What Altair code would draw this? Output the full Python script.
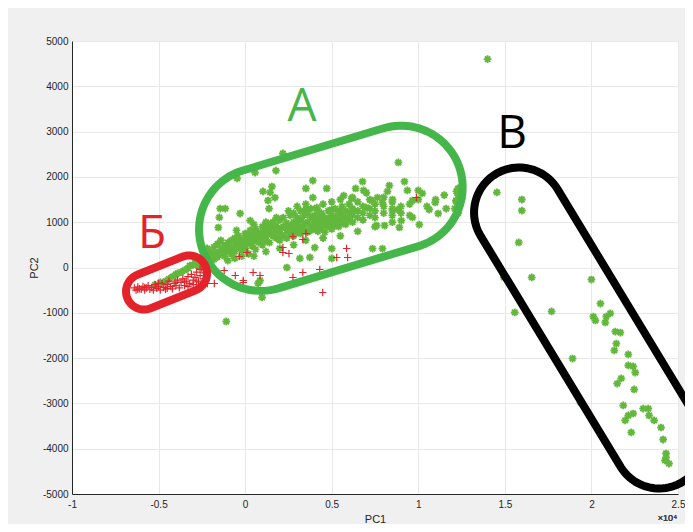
import math
import altair as alt
import pandas as pd

# ---------------- data ----------------
# x in units of 1e4 (PC1), y raw (PC2)
green_isolated = [
    (1.40, 4600),
    (0.218, 2517), (0.885, 2318), (0.057, 2097), (0.178, 2141), (-0.046, 1965),
    (0.391, 1920), (0.678, 1898), (0.920, 1898), (0.155, 1788), (0.144, 1656),
    (0.103, 1678), (0.351, 1744), (0.471, 1744), (0.638, 1744), (0.684, 1700),
    (0.833, 1810), (0.822, 1678), (0.937, 1700), (1.230, 1744), (0.172, 1545),
    (0.132, 1479), (0.391, 1545), (0.569, 1589), (0.615, 1523), (0.730, 1479),
    (0.764, 1545), (0.851, 1501), (0.793, 1435), (0.966, 1479), (1.023, 1634),
    (1.098, 1435), (1.218, 1479), (-0.144, 1302), (-0.115, 1302), (-0.029, 1192),
    (0.138, 1302), (0.351, 1280), (0.414, 1324), (0.500, 1280), (0.546, 1258),
    (0.626, 1258), (0.701, 1324), (0.851, 1258), (0.885, 1280), (1.063, 1280),
    (1.115, 1192), (1.161, 1302), (-0.149, 1104), (-0.155, 883), (0.029, 1037),
    (0.029, 817), (0.966, 1104), (1.006, 949), (0.891, 883), (0.902, 1037),
    (0.759, 927), (0.805, 927), (0.736, 419), (0.793, 419), (0.500, 419),
    (0.402, 441), (0.241, 0), (0.316, 199), (0.374, 221), (0.098, -662),
    (0.086, -287), (0.075, -353), (0.500, 199), (-0.109, -1192),
]

green_band = [
    (-0.22, 150), (-0.22, 300), (-0.22, 420), (-0.20, 200), (-0.20, 350), (-0.20, 260),
    (-0.18, 280), (-0.18, 450), (-0.18, 180), (-0.16, 330), (-0.16, 230), (-0.16, 520),
    (-0.14, 400), (-0.14, 300), (-0.14, 600), (-0.12, 250), (-0.12, 480), (-0.12, 380),
    (-0.10, 350), (-0.10, 550), (-0.10, 450), (-0.10, 150), (-0.08, 420), (-0.08, 600),
    (-0.08, 300), (-0.06, 500), (-0.06, 350), (-0.06, 650), (-0.06, 200), (-0.04, 450),
    (-0.04, 700), (-0.04, 550), (-0.02, 380), (-0.02, 600), (-0.02, 520), (-0.02, 250),
    (0.00, 500), (0.00, 650), (0.00, 420), (0.00, 750), (0.02, 550), (0.02, 700),
    (0.02, 300), (0.02, 600), (0.04, 480), (0.04, 800), (0.04, 650), (0.06, 600),
    (0.06, 720), (0.06, 400), (0.06, 850), (0.08, 550), (0.08, 750), (0.08, 680),
    (0.10, 650), (0.10, 900), (0.10, 500), (0.10, 780), (0.12, 700), (0.12, 600),
    (0.12, 850), (0.14, 750), (0.14, 950), (0.14, 550), (0.14, 820), (0.16, 700),
    (0.16, 880), (0.16, 1000), (0.18, 800), (0.18, 650), (0.18, 920), (0.20, 750),
    (0.20, 1050), (0.20, 850), (0.20, 600), (0.22, 900), (0.22, 700), (0.22, 1100),
    (0.24, 820), (0.24, 980), (0.24, 650), (0.26, 900), (0.26, 1150), (0.26, 750),
    (0.28, 850), (0.28, 1000), (0.28, 700), (0.28, 1200), (0.30, 950), (0.30, 800),
    (0.30, 1100), (0.32, 880), (0.32, 1050), (0.32, 750), (0.32, 1250), (0.34, 950),
    (0.34, 1150), (0.34, 850), (0.36, 1000), (0.36, 780), (0.36, 1200), (0.38, 900),
    (0.38, 1100), (0.38, 1300), (0.38, 820), (0.40, 1000), (0.40, 850), (0.40, 1150),
    (0.42, 950), (0.42, 1250), (0.42, 800), (0.42, 1080), (0.44, 1000), (0.44, 880),
    (0.44, 1200), (0.46, 1100), (0.46, 950), (0.46, 780), (0.48, 1050), (0.48, 900),
    (0.48, 1250), (0.50, 1000), (0.50, 1150), (0.50, 850), (0.52, 1100), (0.52, 950),
    (0.52, 1300), (0.54, 1050), (0.54, 900), (0.54, 1200), (0.56, 1150), (0.56, 1000),
    (0.56, 1350), (0.58, 1100), (0.58, 950), (0.58, 1250), (0.60, 1050), (0.60, 1200),
    (0.60, 1400), (0.62, 1150), (0.62, 1000), (0.62, 1300), (0.65, 1100), (0.65, 1250),
    (0.65, 1450), (0.68, 1200), (0.68, 1050), (0.68, 1350), (0.72, 1150), (0.72, 1300),
    (0.72, 1500), (0.75, 1250), (0.75, 1100), (0.75, 1400), (0.80, 1200), (0.80, 1350),
    (0.80, 1550), (0.85, 1300), (0.85, 1150), (0.85, 1450), (0.90, 1350), (0.90, 1200),
    (0.95, 1400), (1.00, 1500), (1.05, 1350),
    (1.21, 1300), (1.22, 1450), (1.23, 1600), (1.24, 1750), (1.22, 1680), (1.24, 1380),
    (1.25, 1520), (1.23, 1200),
]

green_band_edges = [
    (-0.05, 820), (0.05, 950), (0.12, 1000), (0.18, 1100), (0.25, 1250), (0.30, 1350),
    (0.35, 1400), (0.45, 1400), (0.50, 1450), (0.55, 1500), (0.62, 1550), (0.70, 1650),
    (0.05, 250), (0.12, 350), (0.20, 420), (0.28, 500), (0.35, 600), (0.45, 650),
    (0.55, 700), (0.65, 800), (0.75, 900), (0.85, 1000), (0.95, 1150), (1.10, 1500),
    (1.15, 1600), (1.00, 1700), (0.47, 1020), (0.49, 1080), (0.51, 980), (0.44, 1120),
]

green_tail = [
    (-0.52, -380), (-0.49, -330), (-0.46, -300), (-0.44, -250), (-0.42, -200),
    (-0.40, -150), (-0.39, -130), (-0.37, -100), (-0.35, -60), (-0.33, -20),
    (-0.32, 40), (-0.30, 60), (-0.29, 100), (-0.28, 150), (-0.27, 30),
    (-0.26, 200), (-0.25, 120), (-0.24, 250),
]

green_B = [
    (1.454, 1656), (1.598, 1501), (1.598, 1258), (1.580, 552), (1.494, -220),
    (1.655, -220), (2.000, -265), (1.557, -993), (1.770, -971), (2.052, -795),
    (2.011, -1082), (2.023, -1170), (2.080, -1214), (2.086, -1082), (2.109, -1015),
    (2.138, -1413), (2.167, -1435), (2.144, -1678), (2.132, -1832), (1.891, -2009),
    (2.213, -1920), (2.213, -2163), (2.241, -2185), (2.253, -2318), (2.172, -2450),
    (2.149, -2561), (2.247, -2693), (1.937, -2980), (2.184, -3046), (2.213, -3267),
    (2.195, -3377), (2.241, -3223), (2.299, -3113), (2.328, -3113), (2.333, -3267),
    (2.362, -3377), (2.230, -3642), (2.402, -3532), (2.414, -3797), (2.431, -4106),
    (2.425, -4260), (2.448, -4327), (2.431, -4194),
]

red_cluster = [
    (-0.64, -450), (-0.63, -500), (-0.62, -430), (-0.61, -470), (-0.60, -480),
    (-0.59, -420), (-0.58, -500), (-0.57, -450), (-0.56, -400), (-0.55, -480),
    (-0.54, -440), (-0.53, -500), (-0.52, -380), (-0.51, -460), (-0.50, -420),
    (-0.49, -500), (-0.48, -350), (-0.47, -440), (-0.46, -480), (-0.45, -380),
    (-0.44, -300), (-0.43, -420), (-0.42, -470), (-0.41, -350), (-0.40, -400),
    (-0.39, -280), (-0.38, -450), (-0.37, -330), (-0.36, -250), (-0.35, -400),
    (-0.34, -300), (-0.33, -200), (-0.32, -350), (-0.31, -150), (-0.30, -280),
    (-0.29, -220), (-0.28, -100), (-0.27, -300), (-0.26, -180), (-0.25, -50),
    (-0.24, -250), (-0.23, -120), (-0.50, -350), (-0.45, -460), (-0.40, -320),
    (-0.35, -320), (-0.30, -380), (-0.58, -440), (-0.62, -480), (-0.33, -420),
    (-0.28, -320), (-0.26, -40),
]

red_scattered = [
    (0.989, 1545), (0.351, 750), (0.333, 618), (0.276, 684), (0.218, 441),
    (0.218, 331), (0.253, 309), (0.586, 419), (0.529, 221), (0.592, 221),
    (0.431, -44), (0.333, -110), (0.276, -221), (0.448, -552), (0.011, 331),
    (-0.034, 243), (0.086, -177), (0.046, -110), (-0.011, -287), (-0.057, -177),
    (-0.121, -66), (-0.011, -331), (-0.178, -353), (-0.218, -353),
]

x_ticks = [-1, -0.5, 0, 0.5, 1, 1.5, 2, 2.5]
y_ticks = [-5000, -4000, -3000, -2000, -1000, 0, 1000, 2000, 3000, 4000, 5000]

# hand-drawn group outlines: cap centres (data units) and radius (px)
outline_names = ["A", "B", "Б"]
outline_caps = [((0.089, 841), (0.901, 1773)),
                ((1.582, 1214), (2.391, -3885)),
                ((-0.584, -530), (-0.324, -132))]
outline_radius = [61.5, 45, 18]
outline_colors = ["#45b649", "#000000", "#e3222a"]

label_text = ["А", "В", "Б"]
label_x = [0.329, 1.542, -0.538]
label_y = [3245, 2627, 441]
label_colors = ["#45b649", "#000000", "#e3222a"]

# ---------------- layout ----------------
W, H = 606, 453
XMIN, XMAX, YMIN, YMAX = -1, 2.5, -5000, 5000
SX = W / (XMAX - XMIN)
SY = H / (YMAX - YMIN)


def stadium(c1, c2, r, n=48):
    X1, Y1 = c1[0] * SX, c1[1] * SY
    X2, Y2 = c2[0] * SX, c2[1] * SY
    a = math.atan2(Y2 - Y1, X2 - X1)
    pts = []
    for k in range(n + 1):
        t = a - math.pi / 2 + math.pi * k / n
        pts.append((X2 + r * math.cos(t), Y2 + r * math.sin(t)))
    for k in range(n + 1):
        t = a + math.pi / 2 + math.pi * k / n
        pts.append((X1 + r * math.cos(t), Y1 + r * math.sin(t)))
    pts.append(pts[0])
    return [(px / SX, py / SY) for px, py in pts]


green_all = green_isolated + green_band + green_band_edges + green_tail + green_B
red_all = red_cluster + red_scattered
df_green = pd.DataFrame(green_all, columns=["x", "y"])
df_red = pd.DataFrame(red_all, columns=["x", "y"])

rows = []
for name, caps, r, col in zip(outline_names, outline_caps, outline_radius, outline_colors):
    for i, (px, py) in enumerate(stadium(caps[0], caps[1], r)):
        rows.append({"shape": name, "i": i, "x": px, "y": py, "c": col})
df_outline = pd.DataFrame(rows)

df_labels = pd.DataFrame({"x": label_x, "y": label_y, "t": label_text, "c": label_colors})

minus_fix = "replace(datum.label, '\u2212', '-')"
xenc = alt.X("x:Q", scale=alt.Scale(domain=[XMIN, XMAX], nice=False, zero=False),
             axis=alt.Axis(values=x_ticks, format="~g", labelExpr=minus_fix, title="PC1",
                           labelFlush=False, labelPadding=5, titlePadding=4))
yenc = alt.Y("y:Q", scale=alt.Scale(domain=[YMIN, YMAX], nice=False, zero=False),
             axis=alt.Axis(values=y_ticks, format="d", labelExpr=minus_fix, title="PC2",
                           labelFlush=False, labelPadding=4, titlePadding=3))

ASTERISK = "M-1,0L1,0M0,-1L0,1M-0.7,-0.7L0.7,0.7M-0.7,0.7L0.7,-0.7"
PLUS = "M-1,0L1,0M0,-1L0,1"

green_layer = alt.Chart(df_green).mark_point(
    shape=ASTERISK, filled=False, color="#62b83c", strokeWidth=1.9, size=60, opacity=1
).encode(x=xenc, y=yenc)

red_layer = alt.Chart(df_red).mark_point(
    shape=PLUS, filled=False, color="#e0262c", strokeWidth=1.2, size=55, opacity=1
).encode(x="x:Q", y="y:Q")

outline_layer = alt.Chart(df_outline).mark_line(
    strokeWidth=8, strokeCap="round", strokeJoin="round"
).encode(x="x:Q", y="y:Q", order="i:Q", detail="shape:N",
         color=alt.Color("c:N", scale=None))

label_layer = alt.Chart(df_labels).mark_text(
    font="Open Sans", fontSize=46, baseline="alphabetic", align="center"
).encode(x="x:Q", y="y:Q", text="t:N", color=alt.Color("c:N", scale=None))

exp_layer = alt.Chart(df_labels).mark_text(
    font="Liberation Sans", fontSize=9, align="right", baseline="middle", color="#404040"
).encode(x=alt.value(W - 1), y=alt.value(H + 24), text=alt.value("×10⁴"))

chart = alt.layer(green_layer, red_layer, outline_layer, label_layer, exp_layer).properties(
    width=W, height=H,
    autosize=alt.AutoSizeParams(type="none"),
    padding={"left": 64, "top": 33, "right": 7, "bottom": 30},
    background="#f0f0f0",
).configure_view(fill="white", stroke=None).configure_axis(
    labelFont="Liberation Sans", labelFontSize=10, labelColor="#262626",
    titleFont="Liberation Sans", titleFontSize=11, titleFontWeight="normal", titleColor="#262626",
    domainColor="#262626", domainWidth=1, gridColor="#e8e8e8", gridWidth=1, ticks=False,
)

chart.save("out.html", embed_options={"renderer": "svg", "actions": False})
